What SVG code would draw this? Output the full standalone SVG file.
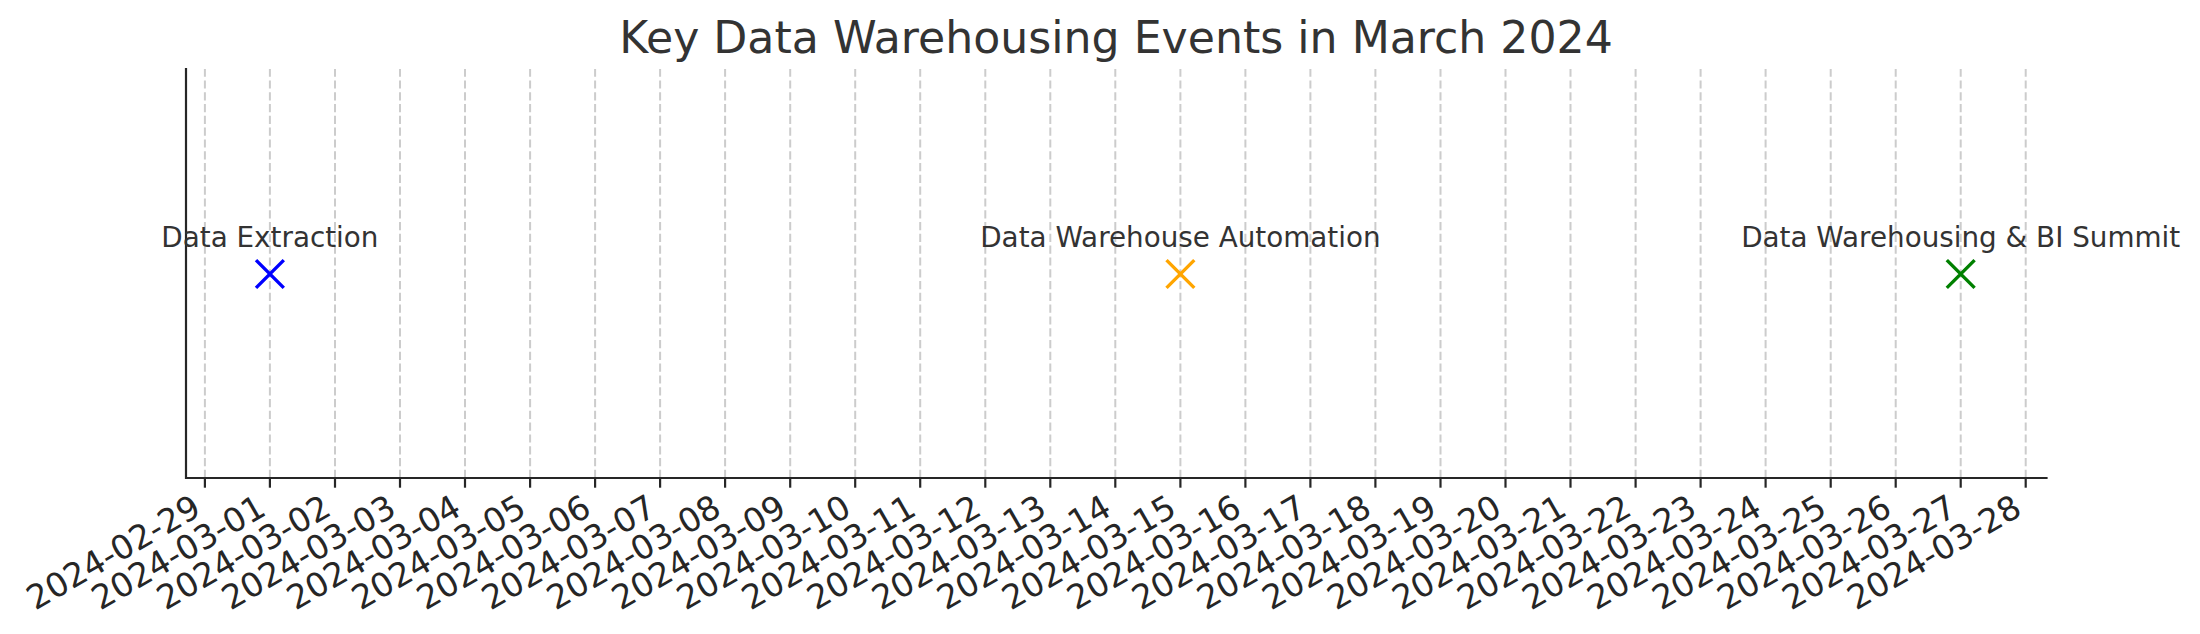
<svg xmlns="http://www.w3.org/2000/svg" width="2200" height="634" viewBox="0 0 2200 634">
<style>
.grid line{stroke:#cccccc;stroke-width:2;stroke-dasharray:8.2 3.6;fill:none}
.spine{stroke:#262626;stroke-width:2.2;stroke-linecap:square;fill:none}
.tick line{stroke:#262626;stroke-width:2.2}
.tl{font-family:"DejaVu Sans","Liberation Sans",sans-serif;font-size:33.3px;fill:#262626;text-anchor:end}
.title{font-family:"DejaVu Sans","Liberation Sans",sans-serif;font-size:44.2px;fill:#333333;text-anchor:middle}
.lbl{font-family:"DejaVu Sans","Liberation Sans",sans-serif;font-size:27.8px;fill:#333333;text-anchor:middle}
.mk{stroke-width:3.4;stroke-linecap:butt;fill:none}
</style>
<rect width="2200" height="634" fill="#ffffff"/>
<text class="title" x="1116" y="52.5">Key Data Warehousing Events in March 2024</text>
<g id="grid" class="grid">
<line x1="204.9" y1="478" x2="204.9" y2="69"/>
<line x1="269.9" y1="478" x2="269.9" y2="69"/>
<line x1="335.0" y1="478" x2="335.0" y2="69"/>
<line x1="400.0" y1="478" x2="400.0" y2="69"/>
<line x1="465.0" y1="478" x2="465.0" y2="69"/>
<line x1="530.1" y1="478" x2="530.1" y2="69"/>
<line x1="595.1" y1="478" x2="595.1" y2="69"/>
<line x1="660.1" y1="478" x2="660.1" y2="69"/>
<line x1="725.1" y1="478" x2="725.1" y2="69"/>
<line x1="790.2" y1="478" x2="790.2" y2="69"/>
<line x1="855.2" y1="478" x2="855.2" y2="69"/>
<line x1="920.2" y1="478" x2="920.2" y2="69"/>
<line x1="985.3" y1="478" x2="985.3" y2="69"/>
<line x1="1050.3" y1="478" x2="1050.3" y2="69"/>
<line x1="1115.3" y1="478" x2="1115.3" y2="69"/>
<line x1="1180.4" y1="478" x2="1180.4" y2="69"/>
<line x1="1245.4" y1="478" x2="1245.4" y2="69"/>
<line x1="1310.4" y1="478" x2="1310.4" y2="69"/>
<line x1="1375.4" y1="478" x2="1375.4" y2="69"/>
<line x1="1440.5" y1="478" x2="1440.5" y2="69"/>
<line x1="1505.5" y1="478" x2="1505.5" y2="69"/>
<line x1="1570.5" y1="478" x2="1570.5" y2="69"/>
<line x1="1635.6" y1="478" x2="1635.6" y2="69"/>
<line x1="1700.6" y1="478" x2="1700.6" y2="69"/>
<line x1="1765.6" y1="478" x2="1765.6" y2="69"/>
<line x1="1830.7" y1="478" x2="1830.7" y2="69"/>
<line x1="1895.7" y1="478" x2="1895.7" y2="69"/>
<line x1="1960.7" y1="478" x2="1960.7" y2="69"/>
<line x1="2025.7" y1="478" x2="2025.7" y2="69"/>
</g>
<g id="axes">
<path class="spine" d="M186 69 V478 H2046.5"/>
<g class="tick">
<line x1="204.9" y1="478" x2="204.9" y2="487.7"/>
<line x1="269.9" y1="478" x2="269.9" y2="487.7"/>
<line x1="335.0" y1="478" x2="335.0" y2="487.7"/>
<line x1="400.0" y1="478" x2="400.0" y2="487.7"/>
<line x1="465.0" y1="478" x2="465.0" y2="487.7"/>
<line x1="530.1" y1="478" x2="530.1" y2="487.7"/>
<line x1="595.1" y1="478" x2="595.1" y2="487.7"/>
<line x1="660.1" y1="478" x2="660.1" y2="487.7"/>
<line x1="725.1" y1="478" x2="725.1" y2="487.7"/>
<line x1="790.2" y1="478" x2="790.2" y2="487.7"/>
<line x1="855.2" y1="478" x2="855.2" y2="487.7"/>
<line x1="920.2" y1="478" x2="920.2" y2="487.7"/>
<line x1="985.3" y1="478" x2="985.3" y2="487.7"/>
<line x1="1050.3" y1="478" x2="1050.3" y2="487.7"/>
<line x1="1115.3" y1="478" x2="1115.3" y2="487.7"/>
<line x1="1180.4" y1="478" x2="1180.4" y2="487.7"/>
<line x1="1245.4" y1="478" x2="1245.4" y2="487.7"/>
<line x1="1310.4" y1="478" x2="1310.4" y2="487.7"/>
<line x1="1375.4" y1="478" x2="1375.4" y2="487.7"/>
<line x1="1440.5" y1="478" x2="1440.5" y2="487.7"/>
<line x1="1505.5" y1="478" x2="1505.5" y2="487.7"/>
<line x1="1570.5" y1="478" x2="1570.5" y2="487.7"/>
<line x1="1635.6" y1="478" x2="1635.6" y2="487.7"/>
<line x1="1700.6" y1="478" x2="1700.6" y2="487.7"/>
<line x1="1765.6" y1="478" x2="1765.6" y2="487.7"/>
<line x1="1830.7" y1="478" x2="1830.7" y2="487.7"/>
<line x1="1895.7" y1="478" x2="1895.7" y2="487.7"/>
<line x1="1960.7" y1="478" x2="1960.7" y2="487.7"/>
<line x1="2025.7" y1="478" x2="2025.7" y2="487.7"/>
</g>
<g id="ticklabels">
<text class="tl" transform="translate(202.9,514) rotate(-30)">2024-02-29</text>
<text class="tl" transform="translate(267.9,514) rotate(-30)">2024-03-01</text>
<text class="tl" transform="translate(333.0,514) rotate(-30)">2024-03-02</text>
<text class="tl" transform="translate(398.0,514) rotate(-30)">2024-03-03</text>
<text class="tl" transform="translate(463.0,514) rotate(-30)">2024-03-04</text>
<text class="tl" transform="translate(528.1,514) rotate(-30)">2024-03-05</text>
<text class="tl" transform="translate(593.1,514) rotate(-30)">2024-03-06</text>
<text class="tl" transform="translate(658.1,514) rotate(-30)">2024-03-07</text>
<text class="tl" transform="translate(723.1,514) rotate(-30)">2024-03-08</text>
<text class="tl" transform="translate(788.2,514) rotate(-30)">2024-03-09</text>
<text class="tl" transform="translate(853.2,514) rotate(-30)">2024-03-10</text>
<text class="tl" transform="translate(918.2,514) rotate(-30)">2024-03-11</text>
<text class="tl" transform="translate(983.3,514) rotate(-30)">2024-03-12</text>
<text class="tl" transform="translate(1048.3,514) rotate(-30)">2024-03-13</text>
<text class="tl" transform="translate(1113.3,514) rotate(-30)">2024-03-14</text>
<text class="tl" transform="translate(1178.4,514) rotate(-30)">2024-03-15</text>
<text class="tl" transform="translate(1243.4,514) rotate(-30)">2024-03-16</text>
<text class="tl" transform="translate(1308.4,514) rotate(-30)">2024-03-17</text>
<text class="tl" transform="translate(1373.4,514) rotate(-30)">2024-03-18</text>
<text class="tl" transform="translate(1438.5,514) rotate(-30)">2024-03-19</text>
<text class="tl" transform="translate(1503.5,514) rotate(-30)">2024-03-20</text>
<text class="tl" transform="translate(1568.5,514) rotate(-30)">2024-03-21</text>
<text class="tl" transform="translate(1633.6,514) rotate(-30)">2024-03-22</text>
<text class="tl" transform="translate(1698.6,514) rotate(-30)">2024-03-23</text>
<text class="tl" transform="translate(1763.6,514) rotate(-30)">2024-03-24</text>
<text class="tl" transform="translate(1828.7,514) rotate(-30)">2024-03-25</text>
<text class="tl" transform="translate(1893.7,514) rotate(-30)">2024-03-26</text>
<text class="tl" transform="translate(1958.7,514) rotate(-30)">2024-03-27</text>
<text class="tl" transform="translate(2023.7,514) rotate(-30)">2024-03-28</text>
</g>
</g>
<g id="connectors"></g>
<g id="event-data-extraction">
<path class="mk" stroke="#0000ff" d="M256 260.1 L283.8 287.9 M256 287.9 L283.8 260.1"/>
<text class="lbl" x="269.9" y="246.7">Data Extraction</text>
</g>
<g id="event-dw-automation">
<path class="mk" stroke="#ffa500" d="M1166.5 260.1 L1194.3 287.9 M1166.5 287.9 L1194.3 260.1"/>
<text class="lbl" x="1180.4" y="246.7">Data Warehouse Automation</text>
</g>
<g id="event-dw-bi-summit">
<path class="mk" stroke="#008000" d="M1946.8 260.1 L1974.6 287.9 M1946.8 287.9 L1974.6 260.1"/>
<text class="lbl" x="1960.7" y="246.7">Data Warehousing &amp; BI Summit</text>
</g>
</svg>
